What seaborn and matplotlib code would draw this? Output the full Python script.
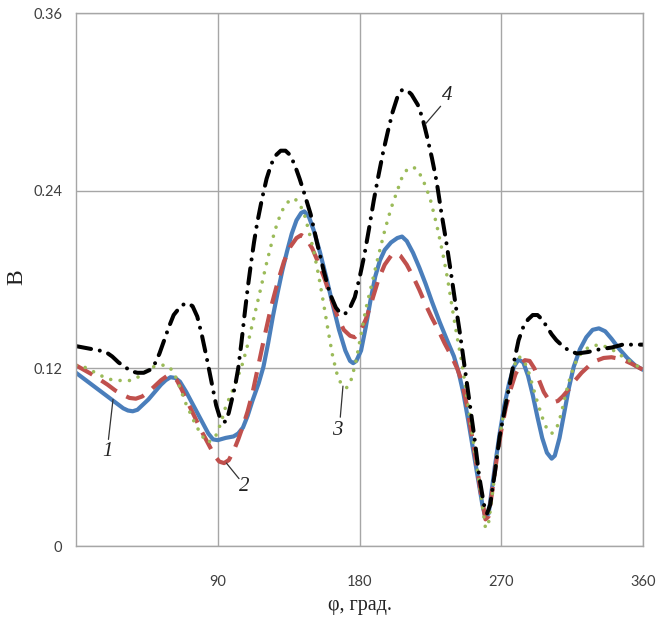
import matplotlib
matplotlib.use("Agg")
import matplotlib.pyplot as plt
import seaborn as sns

# ---- data ----
phi1 = [0, 5, 10, 15, 20, 25, 30, 33, 36, 39, 42, 46, 50, 54, 57, 60, 63, 66, 70, 75, 80, 84,
        87, 90, 95, 100, 103, 106, 109, 112, 116, 119, 122, 125, 128, 131, 134, 137, 140, 143,
        145, 148, 151, 155, 159, 163, 167, 171, 174, 176, 178, 181, 184, 187, 190, 193, 196,
        200, 204, 207, 210, 214, 218, 222, 226, 231, 236, 240, 243, 246, 249, 252, 255, 258,
        260, 262, 264, 266, 269, 272, 275, 278, 281, 284, 287, 290, 293, 296, 299, 302, 304,
        307, 310, 313, 316, 320, 324, 328, 332, 336, 340, 345, 350, 355, 360]
b1 = [0.117, 0.113, 0.109, 0.105, 0.101, 0.097, 0.093, 0.0915, 0.091, 0.092, 0.095, 0.099,
      0.104, 0.109, 0.112, 0.114, 0.1135, 0.111, 0.104, 0.094, 0.084, 0.076, 0.072, 0.0715,
      0.073, 0.074, 0.076, 0.080, 0.088, 0.098, 0.110, 0.121, 0.137, 0.155, 0.171, 0.186,
      0.199, 0.211, 0.220, 0.225, 0.226, 0.222, 0.213, 0.198, 0.181, 0.163, 0.146, 0.132,
      0.125, 0.1235, 0.125, 0.132, 0.148, 0.166, 0.182, 0.193, 0.200, 0.205, 0.208, 0.209,
      0.206, 0.198, 0.188, 0.177, 0.165, 0.151, 0.138, 0.128, 0.117, 0.103, 0.085, 0.066,
      0.047, 0.028, 0.019, 0.022, 0.038, 0.054, 0.076, 0.095, 0.110, 0.121, 0.126, 0.124,
      0.115, 0.102, 0.087, 0.073, 0.063, 0.059, 0.061, 0.073, 0.090, 0.107, 0.121, 0.133,
      0.141, 0.146, 0.147, 0.145, 0.140, 0.133, 0.127, 0.122, 0.119]

phi2 = [0, 5, 10, 15, 20, 25, 30, 34, 38, 42, 46, 50, 54, 58, 61, 64, 67, 70, 75, 80, 84, 88,
        91, 94, 97, 100, 103, 106, 109, 112, 116, 120, 124, 128, 132, 136, 140, 143, 146, 150,
        154, 158, 162, 166, 170, 174, 177, 180, 184, 188, 192, 196, 200, 203, 206, 210, 214,
        218, 222, 226, 230, 234, 238, 242, 245, 248, 251, 254, 257, 260, 262, 264, 267, 270,
        273, 276, 279, 282, 285, 288, 291, 294, 297, 300, 303, 306, 309, 313, 317, 321, 326,
        330, 335, 340, 347, 353, 360]
b2 = [0.122, 0.119, 0.116, 0.1125, 0.109, 0.105, 0.102, 0.100, 0.0995, 0.101, 0.104, 0.108,
      0.112, 0.115, 0.1145, 0.112, 0.106, 0.099, 0.088, 0.077, 0.069, 0.061, 0.057, 0.056,
      0.058, 0.064, 0.072, 0.081, 0.091, 0.103, 0.123, 0.143, 0.162, 0.178, 0.192, 0.202,
      0.208, 0.210, 0.208, 0.201, 0.191, 0.180, 0.167, 0.155, 0.146, 0.142, 0.141, 0.144,
      0.153, 0.166, 0.180, 0.190, 0.196, 0.198, 0.196, 0.190, 0.182, 0.173, 0.163, 0.154,
      0.146, 0.137, 0.129, 0.120, 0.111, 0.096, 0.077, 0.057, 0.036, 0.018, 0.020, 0.035,
      0.058, 0.078, 0.094, 0.106, 0.116, 0.122, 0.1255, 0.125, 0.120, 0.112, 0.104, 0.099,
      0.097, 0.098, 0.101, 0.106, 0.112, 0.117, 0.122, 0.125, 0.127, 0.1275, 0.126, 0.123,
      0.119]

phi3 = [0, 5, 9, 14, 18, 22, 26, 31, 36, 40, 43, 46, 49, 53, 57, 60, 63, 66, 69, 72, 75, 79,
        83, 86, 89, 92, 95, 99, 102, 106, 109, 112, 116, 121, 125, 128, 132, 136, 139, 142,
        145, 148, 151, 154, 157, 160, 163, 166, 169, 172, 175, 178, 181, 184, 188, 192, 196,
        200, 204, 207, 210, 213, 216, 219, 222, 225, 229, 233, 236, 239, 242, 245, 248, 251,
        254, 257, 260, 262, 264, 267, 270, 273, 276, 279, 281, 284, 287, 290, 293, 296, 299,
        302, 305, 308, 311, 314, 318, 322, 327, 333, 340, 347, 353, 360]
b3 = [0.122, 0.121, 0.119, 0.116, 0.114, 0.1125, 0.112, 0.1115, 0.112, 0.1145, 0.117, 0.119,
      0.121, 0.122, 0.1222, 0.120, 0.115, 0.107, 0.098, 0.091, 0.084, 0.076, 0.070, 0.071,
      0.075, 0.083, 0.094, 0.104, 0.112, 0.124, 0.136, 0.150, 0.168, 0.191, 0.208, 0.219,
      0.229, 0.234, 0.2345, 0.231, 0.224, 0.212, 0.199, 0.183, 0.165, 0.146, 0.128, 0.115,
      0.108, 0.107, 0.113, 0.126, 0.143, 0.160, 0.178, 0.196, 0.213, 0.228, 0.240, 0.249,
      0.254, 0.256, 0.255, 0.250, 0.243, 0.234, 0.217, 0.197, 0.180, 0.160, 0.141, 0.124,
      0.102, 0.080, 0.058, 0.035, 0.012, 0.016, 0.032, 0.058, 0.080, 0.098, 0.113, 0.124,
      0.128, 0.126, 0.119, 0.108, 0.097, 0.087, 0.079, 0.076, 0.079, 0.089, 0.103, 0.115,
      0.126, 0.132, 0.135, 0.136, 0.133, 0.128, 0.124, 0.119]

phi4 = [0, 5, 10, 15, 19, 23, 27, 31, 35, 39, 43, 47, 50, 53, 56, 59, 62, 65, 68, 71, 74, 77,
        80, 83, 86, 89, 91, 93, 95, 97, 99, 101, 103, 105, 107, 109, 111, 113, 115, 118, 121,
        124, 127, 130, 133, 136, 139, 142, 145, 149, 153, 157, 161, 165, 168, 171, 174, 177,
        180, 183, 186, 189, 192, 195, 198, 201, 204, 207, 210, 213, 217, 220, 223, 226, 229,
        232, 235, 238, 241, 244, 247, 250, 253, 256, 259, 261, 263, 266, 269, 272, 275, 278,
        281, 284, 287, 290, 293, 296, 299, 302, 305, 309, 313, 318, 325, 333, 340, 347, 354,
        360]
b4 = [0.135, 0.134, 0.133, 0.132, 0.131, 0.128, 0.124, 0.121, 0.118, 0.117, 0.117, 0.119,
      0.123, 0.130, 0.139, 0.148, 0.156, 0.160, 0.163, 0.164, 0.162, 0.155, 0.142, 0.127,
      0.111, 0.095, 0.088, 0.084, 0.084, 0.090, 0.099, 0.108, 0.120, 0.137, 0.156, 0.174,
      0.190, 0.205, 0.218, 0.234, 0.248, 0.258, 0.264, 0.267, 0.267, 0.264, 0.257, 0.248,
      0.238, 0.224, 0.205, 0.187, 0.171, 0.161, 0.157, 0.157, 0.161, 0.168, 0.181, 0.196,
      0.214, 0.233, 0.250, 0.266, 0.280, 0.293, 0.303, 0.308, 0.308, 0.305, 0.298, 0.289,
      0.276, 0.262, 0.246, 0.225, 0.206, 0.185, 0.163, 0.142, 0.119, 0.096, 0.073, 0.047,
      0.028, 0.022, 0.028, 0.050, 0.074, 0.091, 0.107, 0.124, 0.139, 0.148, 0.153, 0.156,
      0.156, 0.153, 0.148, 0.143, 0.139, 0.135, 0.132, 0.130, 0.131, 0.133, 0.134, 0.136,
      0.136, 0.136]

x_ticks = [90, 180, 270, 360]
y_ticks = [0, 0.12, 0.24, 0.36]
y_tick_labels = ["0", "0.12", "0.24", "0.36"]

curve_labels = ["1", "2", "3", "4"]
label_pos = [(19.7, 0.0636), (106.5, 0.040), (165.7, 0.078), (235.6, 0.304)]
leader_from = [(23.5, 0.0990), (95.5, 0.0560), (169.5, 0.108), (221.8, 0.285)]
leader_to = [(20.6, 0.0720), (103.5, 0.0455), (167.8, 0.087), (231.5, 0.297)]

# ---- plotting ----
sns.set_theme(style="white")
plt.rcParams["font.family"] = ["Lato", "DejaVu Sans"]

fig = plt.figure(figsize=(6.7, 6.3), dpi=100)
ax = fig.add_axes([76 / 670, 84 / 630, 567 / 670, 533 / 630])

grid_c = "#A6A6A6"
serif = ["Liberation Serif", "DejaVu Serif"]

sns.lineplot(x=phi1, y=b1, ax=ax, color="#4A7EBB", linewidth=3.0, sort=False,
             solid_capstyle="round", solid_joinstyle="round")
sns.lineplot(x=phi2, y=b2, ax=ax, color="#C0504D", linewidth=3.0, sort=False)
ax.lines[-1].set_dashes((4.5, 2.6))
sns.lineplot(x=phi3, y=b3, ax=ax, color="#9BBB59", linewidth=2.6, sort=False)
ax.lines[-1].set_dashes((0.01, 2.6))
ax.lines[-1].set_dash_capstyle("round")
sns.lineplot(x=phi4, y=b4, ax=ax, color="#000000", linewidth=2.9, sort=False)
ax.lines[-1].set_dashes((3.8, 2.2, 0.01, 2.2))
ax.lines[-1].set_dash_capstyle("round")

ax.set_xlim(0, 360)
ax.set_ylim(0, 0.36)
ax.set_xticks(x_ticks)
ax.set_xticklabels([str(t) for t in x_ticks])
ax.set_yticks(y_ticks)
ax.set_yticklabels(y_tick_labels)
ax.grid(True, color=grid_c, linewidth=1.0)
ax.set_axisbelow(True)
for s in ax.spines.values():
    s.set_visible(True)
    s.set_color(grid_c)
    s.set_linewidth(1.0)
ax.tick_params(axis="both", length=0, labelsize=10.5, colors="#3F3F3F")
ax.tick_params(axis="x", pad=21)
ax.tick_params(axis="y", pad=10)

ax.set_xlabel("φ, град.", family=serif, fontsize=14.5, color="#222222", labelpad=5)
ax.set_ylabel("В", family=serif, fontsize=17, color="#222222")
ax.yaxis.set_label_coords(-0.086, 0.505)

for lab, p, a, b in zip(curve_labels, label_pos, leader_from, leader_to):
    ax.plot([a[0], b[0]], [a[1], b[1]], color="#333333", linewidth=0.9)
    ax.text(p[0], p[1], lab, family=serif, style="italic", fontsize=15,
            color="#222222", ha="center", va="center")

fig.savefig("out.png", dpi=100)
